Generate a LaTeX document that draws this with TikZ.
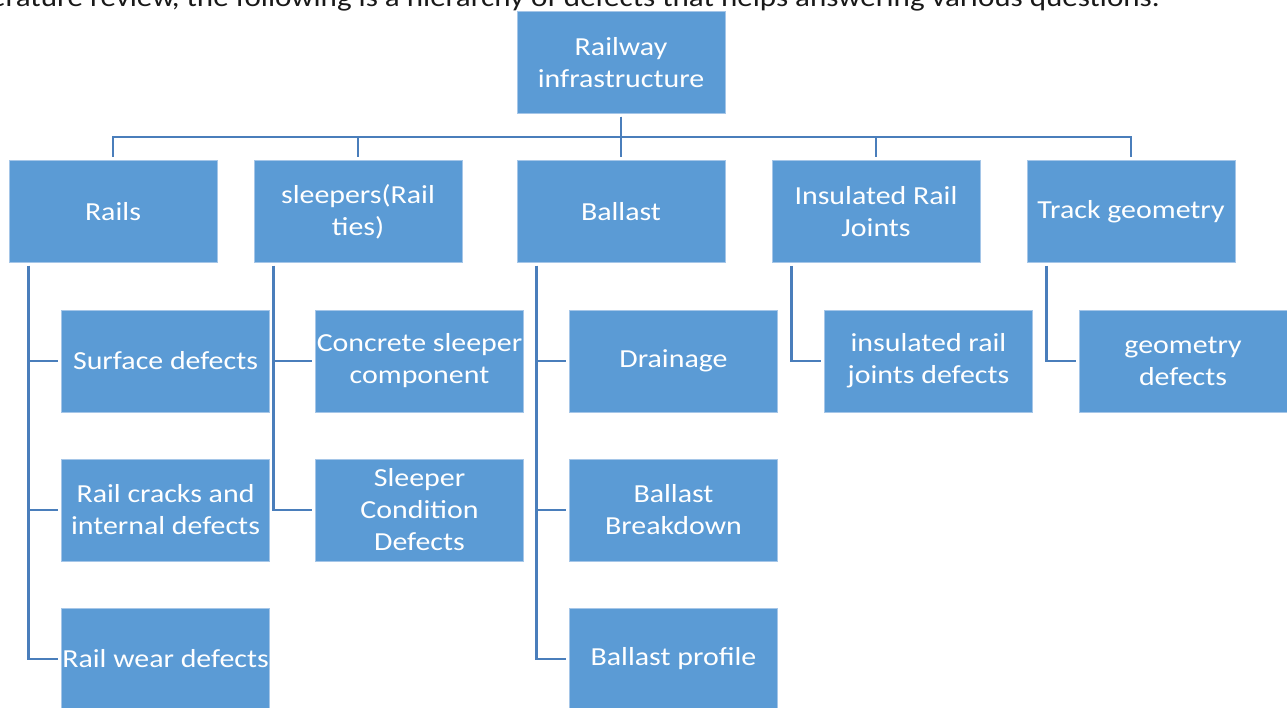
\documentclass[tikz,border=0pt]{standalone}
\usepackage{fontspec}
\setmainfont{Carlito}[FakeStretch=1.15]
\usetikzlibrary{calc}
\definecolor{boxfill}{RGB}{91,155,213}
\definecolor{boxedge}{RGB}{165,198,232}
\definecolor{linkcol}{RGB}{74,126,187}
\tikzset{
  box/.style={rectangle, fill=boxfill, draw=boxedge, line width=0.8pt,
    minimum width=208pt, minimum height=102pt, inner sep=0pt,
    align=center, text=white, font=\fontsize{26}{32}\selectfont},
  conn/.style={draw=linkcol, line width=2.8pt, shorten <=3pt, shorten >=3pt}
}
\begin{document}
\begin{tikzpicture}[x=1pt, y=-1pt]
\clip (0,0) rectangle (1287,707);
\fill[white] (0,0) rectangle (1287,707);

% running text above the chart
\node[anchor=base east, inner sep=0pt, font=\fontsize{27}{32}\selectfont, text=black!90]
  (intro) at (1160,6) {literature review, the following is a hierarchy of defects that helps answering various questions.};

% root
\node[box] (root) at (621,62.5) {Railway\\infrastructure};

% first level
\node[box] (rails)   at (113,211.5)  {Rails};
\node[box] (sleep)   at (358,211.5)  {sleepers(Rail\\ties)};
\node[box] (ballast) at (621,211.5)  {Ballast};
\node[box] (irj)     at (876,211.5)  {Insulated Rail\\Joints};
\node[box] (geom)    at (1131,211.5) {Track geometry};

% second level
\node[box] (surf)   at (165.5,361) {Surface defects};
\node[box] (crack)  at (165.5,510) {Rail cracks and\\internal defects};
\node[box] (wear)   at (165.5,659) {Rail wear defects};

\node[box] (conc)   at (419.5,361) {Concrete sleeper\\component};
\node[box] (scond)  at (419.5,510) {Sleeper\\Condition\\Defects};

\node[box] (drain)  at (673.5,361) {Drainage};
\node[box] (bbreak) at (673.5,510) {Ballast\\Breakdown};
\node[box] (bprof)  at (673.5,659) {Ballast profile};

\node[box] (irjd)   at (928.5,361) {insulated rail\\joints defects};
\node[box] (gdef)   at (1183,361)  {geometry\\defects};

% root to first level
\foreach \n in {rails,sleep,ballast,irj,geom}
  \draw[conn] (root.south) -- ++(0,23) -| (\n.north);

% first level to second level
\foreach \p/\c in {rails/surf,rails/crack,rails/wear,
                   sleep/conc,sleep/scond,
                   ballast/drain,ballast/bbreak,ballast/bprof,
                   irj/irjd,geom/gdef}
  \draw[conn] ([xshift=20pt]\p.south west) |- (\c.west);
\end{tikzpicture}
\end{document}
